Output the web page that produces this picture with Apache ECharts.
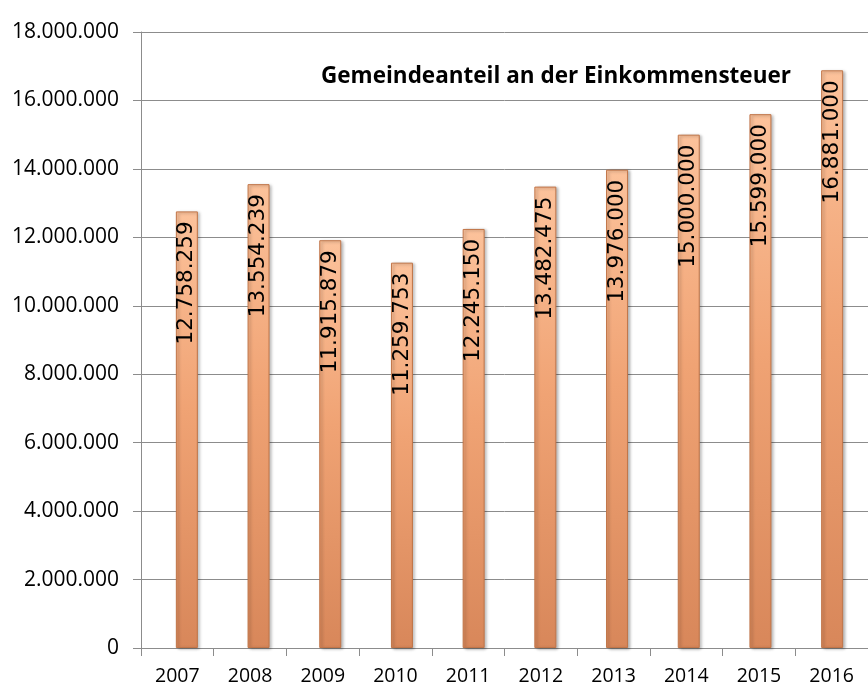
<!DOCTYPE html>
<html>
<head>
<meta charset="utf-8">
<script src="https://cdn.jsdelivr.net/npm/echarts@6/dist/echarts.min.js"></script>
<style>
  html, body { margin: 0; padding: 0; background: #fff; }
  #chart { width: 868px; height: 697px; }
</style>
</head>
<body>
<div id="chart"></div>
<script>
// Jahre und Werte (Gemeindeanteil an der Einkommensteuer)
const years = ['2007', '2008', '2009', '2010', '2011', '2012', '2013', '2014', '2015', '2016'];
const values = [12758259, 13554239, 11915879, 11259753, 12245150, 13482475, 13976000, 15000000, 15599000, 16881000];
const yMin = 0;
const yMax = 18000000;
const yStep = 2000000;

// Tausenderpunkte wie im Original
function fmt(v) {
    return String(Math.round(v)).replace(/\B(?=(\d{3})+(?!\d))/g, '.');
}

const chart = echarts.init(document.getElementById('chart'));
chart.setOption({
    animation: false,
    title: {
        text: 'Gemeindeanteil an der Einkommensteuer',
        left: 316,
        top: 60,
        textStyle: { fontFamily: 'Open Sans', fontWeight: 'bold', fontSize: 22.5, color: '#000' }
    },
    grid: [
        { left: 141, right: -5, top: 32, bottom: 49 },
        // Balken leicht nach rechts versetzt (wie im Original)
        { left: 151, right: -15, top: 32, bottom: 49 }
    ],
    xAxis: [
        {
            type: 'category',
            gridIndex: 0,
            data: years,
            axisLine: { lineStyle: { color: '#8c8c8c', width: 1 } },
            axisTick: { show: true, length: 8, lineStyle: { color: '#8c8c8c' } },
            axisLabel: { color: '#000', fontFamily: 'Open Sans', fontSize: 19.5, margin: 18 }
        },
        {
            type: 'category',
            gridIndex: 1,
            data: years,
            show: false
        }
    ],
    yAxis: [
        {
            type: 'value',
            gridIndex: 0,
            min: yMin,
            max: yMax,
            interval: yStep,
            axisLine: { show: true, lineStyle: { color: '#8c8c8c', width: 1 } },
            axisTick: { show: true, length: 8, lineStyle: { color: '#8c8c8c' } },
            splitLine: { show: true, lineStyle: { color: '#8c8c8c', width: 1 } },
            axisLabel: { color: '#000', fontFamily: 'Open Sans', fontSize: 21, margin: 22, formatter: fmt }
        },
        {
            type: 'value',
            gridIndex: 1,
            min: yMin,
            max: yMax,
            interval: yStep,
            show: false
        }
    ],
    series: [{
        type: 'bar',
        xAxisIndex: 1,
        yAxisIndex: 1,
        data: values,
        barWidth: 22,
        itemStyle: {
            color: new echarts.graphic.LinearGradient(0, 0, 0, 1, [
                { offset: 0, color: '#fcc29b' },
                { offset: 0.45, color: '#f0a374' },
                { offset: 1, color: '#d8875a' }
            ]),
            borderColor: '#c17548',
            borderWidth: 1,
            shadowColor: 'rgba(0,0,0,0.3)',
            shadowBlur: 3,
            shadowOffsetX: 2,
            shadowOffsetY: 1
        },
        label: {
            show: true,
            position: 'insideTop',
            rotate: 90,
            align: 'right',
            verticalAlign: 'middle',
            distance: 10,
            color: '#000',
            fontFamily: 'DejaVu Sans',
            fontSize: 21.5,
            formatter: p => fmt(p.value)
        }
    }]
});
</script>
</body>
</html>
